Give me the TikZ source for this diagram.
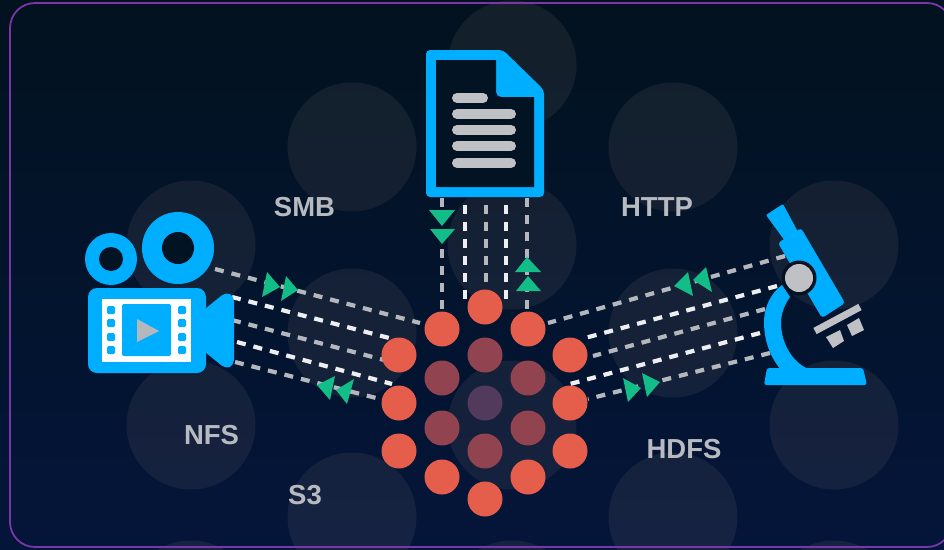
\documentclass[tikz,border=0pt]{standalone}
\usepackage{fontspec}
\setmainfont{Liberation Sans}
\definecolor{bgTop}{HTML}{02121F}
\definecolor{bgBot}{HTML}{04153A}
\definecolor{iconBlue}{HTML}{00AEFF}
\definecolor{iconGray}{HTML}{C0C1C4}
\definecolor{dotRed}{HTML}{E55D4B}
\definecolor{dotMid}{HTML}{91434F}
\definecolor{dotCore}{HTML}{523A5C}
\definecolor{tipGreen}{HTML}{13BD87}
\definecolor{frameLine}{HTML}{7A35A8}
\definecolor{lblGray}{HTML}{B7BAC0}
\definecolor{lineGray}{HTML}{B4B7BB}
\definecolor{lineWhite}{HTML}{EDEEEF}
\definecolor{haloTint}{HTML}{DDBDA0}
\tikzset{
  halo/.style={fill=haloTint,fill opacity=.08},
  reddot/.style={circle,inner sep=0pt,minimum size=35pt,fill=dotRed},
  middot/.style={reddot,fill=dotMid},
  coredot/.style={reddot,fill=dotCore},
  grayflow/.style={draw=lineGray,line width=4.2pt,dash pattern=on 9pt off 8pt},
  whiteflow/.style={draw=lineWhite,line width=4.2pt,dash pattern=on 9pt off 8pt},
  tiptri/.style={fill=tipGreen},
  lbl/.style={text=lblGray,font=\fontsize{27.5}{30}\selectfont\bfseries,inner sep=0pt},
  blue/.style={fill=iconBlue},
  hollow/.style={fill=bgTop!80!bgBot},
  sprocket/.style={fill=iconBlue,rounded corners=1.5pt},
}
\begin{document}
\begin{tikzpicture}[x=1pt,y=-1pt]
\useasboundingbox (0,0) rectangle (944,549);
\clip (0,0) rectangle (944,549);
\fill[top color=bgTop,bottom color=bgBot] (0,0) rectangle (944,549);
% background halos
\foreach \cx/\cy in {191/245,352/147,512/65,673/147,834/245,512/245,352/333,673/333,191/425,834/425,512/425,352/517,673/517,191/605,512/605,834/605}
  \fill[halo] (\cx,\cy) circle (64.5pt);
\draw[frameLine,line width=1.8pt,rounded corners=25pt] (10,3) rectangle (952,547);

% connector ends
\coordinate (camA) at (215,269); \coordinate (hubA) at (420,323);
\coordinate (camB) at (232,297); \coordinate (hubB) at (393,339);
\coordinate (camC) at (232,320); \coordinate (hubC) at (388,361);
\coordinate (camD) at (237,342); \coordinate (hubD) at (392,384);
\coordinate (camE) at (235,362); \coordinate (hubE) at (384,400);
\coordinate (micA) at (785,256); \coordinate (hubF) at (548,323);
\coordinate (micB) at (777,286); \coordinate (hubG) at (585,338);
\coordinate (micC) at (765,309); \coordinate (hubH) at (593,356);
\coordinate (micD) at (760,333); \coordinate (hubI) at (570,384);
\coordinate (micE) at (770,353); \coordinate (hubJ) at (588,399);
\coordinate (docA) at (442,198); \coordinate (hubK) at (442,312);
\coordinate (docB) at (465,205); \coordinate (hubL) at (465,300);
\coordinate (docC) at (486,205); \coordinate (hubM) at (486,290);
\coordinate (docD) at (506,205); \coordinate (hubN) at (506,300);
\coordinate (docE) at (527,198); \coordinate (hubO) at (527,312);

% connectors
\draw[grayflow] (camA) -- (hubA);
\draw[whiteflow] (camB) -- (hubB);
\draw[grayflow] (camC) -- (hubC);
\draw[whiteflow] (camD) -- (hubD);
\draw[grayflow] (camE) -- (hubE);
\draw[grayflow] (micA) -- (hubF);
\draw[whiteflow] (micB) -- (hubG);
\draw[grayflow] (micC) -- (hubH);
\draw[whiteflow] (micD) -- (hubI);
\draw[grayflow] (micE) -- (hubJ);
\draw[grayflow] (docA) -- (hubK);
\draw[whiteflow] (docB) -- (hubL);
\draw[grayflow] (docC) -- (hubM);
\draw[whiteflow] (docD) -- (hubN);
\draw[grayflow] (docE) -- (hubO);

% green arrowheads
\fill[tiptri] (267,272) -- (280,287) -- (262,297) -- cycle;
\fill[tiptri] (286,276) -- (298,290) -- (281,301) -- cycle;
\fill[tiptri] (335,376) -- (317,385) -- (330,400) -- cycle;
\fill[tiptri] (354,379) -- (336,390) -- (347,404) -- cycle;
\fill[tiptri] (688,272) -- (674,286) -- (693,296) -- cycle;
\fill[tiptri] (706,267) -- (693,280) -- (712,292) -- cycle;
\fill[tiptri] (623,378) -- (641,388) -- (628,402) -- cycle;
\fill[tiptri] (642,373) -- (660,382) -- (647,397) -- cycle;
\fill[tiptri] (429,210) -- (455,210) -- (442,226) -- cycle;
\fill[tiptri] (430,229) -- (455,229) -- (442,244) -- cycle;
\fill[tiptri] (527,257) -- (515,272) -- (541,272) -- cycle;
\fill[tiptri] (528,276) -- (516,291) -- (541,291) -- cycle;

% hub dots
\node[reddot] (r1) at (485,307) {};
\node[reddot] (r2) at (442,329) {};
\node[reddot] (r3) at (528,329) {};
\node[reddot] (r4) at (399,355) {};
\node[reddot] (r5) at (570,355) {};
\node[reddot] (r6) at (399,403) {};
\node[reddot] (r7) at (570,403) {};
\node[reddot] (r8) at (399,451) {};
\node[reddot] (r9) at (570,451) {};
\node[reddot] (r10) at (442,477) {};
\node[reddot] (r11) at (528,477) {};
\node[reddot] (r12) at (485,499) {};
\node[middot] (m1) at (485,355) {};
\node[middot] (m2) at (442,378) {};
\node[middot] (m3) at (528,378) {};
\node[middot] (m4) at (442,428) {};
\node[middot] (m5) at (528,428) {};
\node[middot] (m6) at (485,451) {};
\node[coredot] (c0) at (485,403) {};

% document icon
\fill[blue,rounded corners=4pt] (426,50) -- (503,50) -- (544,90) -- (544,197) -- (426,197) -- cycle;
\fill[hollow] (436,60) -- (496,60) -- (496,90) [rounded corners=5pt] -- (496,97) [sharp corners] -- (534,97) -- (534,187) -- (436,187) -- cycle;
\draw[iconGray,line width=10pt,line cap=round] (457,98) -- (483,98);
\foreach \ly in {114,130,146,163}
  \draw[iconGray,line width=10pt,line cap=round] (457,\ly) -- (511,\ly);

% camera icon
\fill[blue] (178,248) circle (36pt);
\fill[hollow] (178,248) circle (16pt);
\fill[blue] (111,259) circle (26pt);
\fill[hollow] (111,259) circle (12pt);
\fill[blue,rounded corners=9pt] (88,288) rectangle (206,373);
\fill[blue,rounded corners=5pt] (200,313) -- (226,292) -- (234,296) -- (234,365) -- (226,369) -- (200,348) -- cycle;
\fill[white] (102,299) rectangle (191,362);
\fill[blue,rounded corners=2pt] (122,304) rectangle (171,356);
\foreach \sy in {310,323,337,350} {
  \fill[sprocket] (107,\sy-4) rectangle (115,\sy+4);
  \fill[sprocket] (178,\sy-4) rectangle (186,\sy+4);
}
\fill[lineGray] (137,319) -- (159,331) -- (137,342) -- cycle;

% microscope icon
\fill[blue,rounded corners=1pt] (766,215) -- (783,204) -- (798,232) -- (785,241) -- cycle;
\fill[blue,rounded corners=3pt] (778,243) -- (801,228) -- (845,303) -- (822,318) -- cycle;
\fill[blue] (782,285) .. controls (771,293) and (764,307) .. (764,322)
  .. controls (764,342) and (771,358) .. (781,370)
  -- (812,370) .. controls (795,366) and (781,345) .. (781,323)
  .. controls (781,313) and (785,304) .. (790,297) -- cycle;
\fill[blue,rounded corners=2.5pt] (764,385) -- (767,368) -- (863,368) -- (867,385) -- cycle;
\draw[iconGray,line width=7pt] (815,331) -- (860,307);
\fill[iconGray] (826,337) -- (840,330) -- (844,341) -- (833,348) -- cycle;
\fill[iconGray] (847,325) -- (859,318) -- (864,330) -- (852,336) -- cycle;
\fill[hollow] (799,278) circle (17.5pt);
\fill[iconGray] (799,278) circle (14pt);

% labels
\node[lbl] (smb) at (304.5,207) {SMB};
\node[lbl] (http) at (657,207) {HTTP};
\node[lbl] (nfs) at (211.5,435) {NFS};
\node[lbl] (s3) at (305,495) {S3};
\node[lbl] (hdfs) at (684,449) {HDFS};
\end{tikzpicture}
\end{document}
